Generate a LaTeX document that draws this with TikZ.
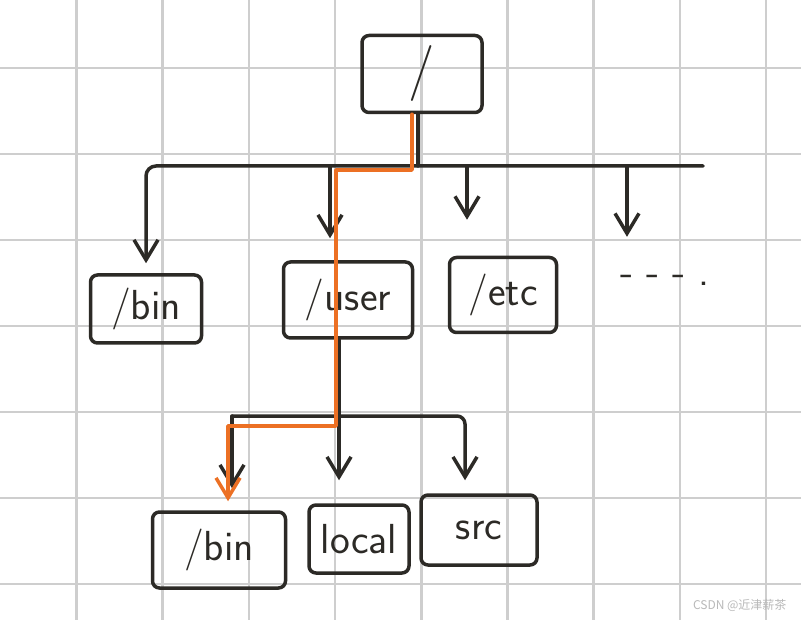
\documentclass[tikz,border=0pt]{standalone}
\usepackage{fontspec}
\newfontfamily\cjkfont{Noto Sans CJK SC}
\usetikzlibrary{arrows.meta}
\definecolor{ink}{RGB}{44,42,38}
\definecolor{orangeline}{RGB}{236,112,36}
\definecolor{gridline}{RGB}{206,206,206}
\definecolor{wmgray}{RGB}{185,185,185}
\tikzset{
  dirbox/.style={draw=ink, line width=3.5pt, rounded corners=7pt, inner sep=0pt, text=ink},
  wire/.style={draw=ink, line width=3.5pt},
  trace/.style={draw=orangeline, line width=3.5pt}
}
\begin{document}
\begin{tikzpicture}[x=1pt, y=-1pt, line join=round, line cap=round,
  >={Straight Barb[length=20pt,width=24pt]},
  font=\sffamily\fontsize{42}{44}\selectfont]
	% Giấy kẻ ô
	\fill[white] (0,0) rectangle (801,620);
	\useasboundingbox (0,0) rectangle (801,620);
	\foreach \x in {0,...,8}
	\draw[gridline, line width=2.5pt] (76.5+86.2*\x,0) -- (76.5+86.2*\x,620);
	\foreach \y in {0,...,6}
	\draw[gridline, line width=2.5pt] (0,68+86*\y) -- (801,68+86*\y);
	
	% Các thư mục
	\node[dirbox, minimum width=120pt, minimum height=77pt, font=\sffamily\fontsize{56}{58}\selectfont] (root) at (422,74) {/};
	\node[dirbox, minimum width=111pt, minimum height=68pt] (bin) at (146,309) {/bin};
	\node[dirbox, minimum width=129pt, minimum height=76pt] (user) at (348,300) {/user};
	\node[dirbox, minimum width=107pt, minimum height=75pt] (etc) at (503,295) {/etc};
	\node[inner sep=0pt, minimum height=40pt, text=ink] (more) at (665,280) {- - - .};
	\node[dirbox, minimum width=133pt, minimum height=76pt] (ubin) at (219,550) {/bin};
	\node[dirbox, minimum width=100pt, minimum height=68pt] (local) at (359,539) {local};
	\node[dirbox, minimum width=116pt, minimum height=70pt] (src) at (479,530) {src};
	
	% Điểm rẽ nhánh
	\coordinate (top) at (418,166);
	\coordinate (d1) at (146,166);
	\coordinate (d2) at (330,166);
	\coordinate (d3) at (467,166);
	\coordinate (d4) at (627,166);
	\coordinate (busend) at (703,166);
	\coordinate (mid) at (339,416);
	\coordinate (e1) at (232,416);
	\coordinate (e3) at (465,416);
	
	% Nhánh cấp 1
	\draw[wire] (root.south -| top) -- (top);
	\draw[wire, ->, rounded corners=10pt, shorten >=10pt] (busend) -- (d1) -- (d1 |- bin.north);
	\draw[wire, ->, shorten >=22pt] (d2) -- (d2 |- user.north);
	\draw[wire, ->, shorten >=36pt] (d3) -- (d3 |- etc.north);
	\draw[wire, ->, shorten >=23pt] (d4) -- (d4 |- more.north);
	
	% Nhánh cấp 2
	\draw[wire] (user.south -| mid) -- (mid);
	\draw[wire, ->, rounded corners=8pt, shorten >=13pt] (e1) -- (e3) -- (e3 |- src.north);
	\draw[wire, ->, shorten >=22pt] (e1) -- (e1 |- ubin.north);
	\draw[wire, ->, shorten >=23pt] (mid) -- (mid |- local.north);
	
	% Đường đi /user/bin
	\draw[trace, ->, shorten >=9pt] ([xshift=-10pt]root.south) |- ([xshift=6pt, yshift=-4pt]d2) |- ([xshift=-4pt, yshift=-10pt]e1) -- ([xshift=-4pt]e1 |- ubin.north);
	
	% Chữ ký
	\node[anchor=east, text=wmgray, font=\cjkfont\fontsize{12}{14}\selectfont] (wm) at (790,605) {CSDN @近津薪茶};
\end{tikzpicture}
\end{document}
